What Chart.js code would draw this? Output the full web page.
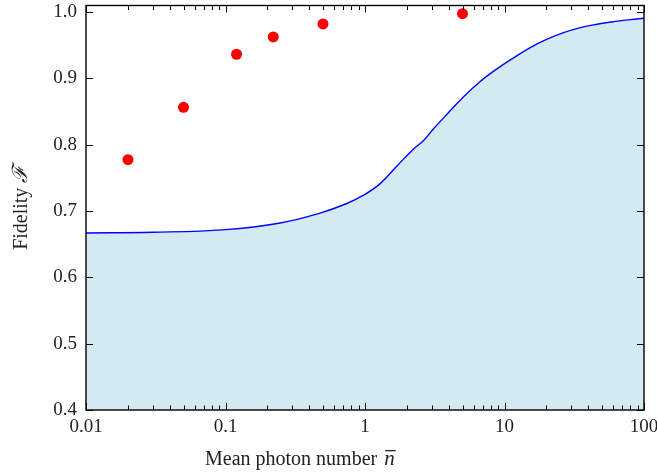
<!DOCTYPE html>
<html>
<head>
<meta charset="utf-8">
<script src="https://cdn.jsdelivr.net/npm/chart.js@4.4.0/dist/chart.umd.min.js"></script>
<style>
    html, body { margin: 0; padding: 0; background: #fff; }
    #wrap { width: 657px; height: 474px; }
</style>
</head>
<body>
<div id="wrap"><canvas id="chartFidelity"></canvas></div>
<script>
// theory curve (mean photon number -> fidelity)
const curveN = [0.01, 0.03, 0.1, 0.247, 0.477, 0.741, 0.975, 1.285, 1.694, 2.23, 2.63, 3.10, 3.87, 5.09, 6.70, 8.83, 11.6, 15.3, 20.2, 26.5, 35, 46, 60.6, 79.8, 100];
const curveF = [0.667, 0.668, 0.672, 0.682, 0.697, 0.7114, 0.7239, 0.7414, 0.768, 0.7935, 0.8065, 0.824, 0.846, 0.8725, 0.8955, 0.9145, 0.931, 0.9466, 0.9592, 0.969, 0.9766, 0.9817, 0.9856, 0.9887, 0.9907];
// measured points
const measN = [0.02, 0.05, 0.12, 0.22, 0.5, 5];
const measF = [0.7775, 0.8565, 0.9365, 0.9626, 0.9822, 0.9976];
// axes
const xTickVals = [0.01, 0.1, 1, 10, 100];
const xTickLabels = ['0.01', '0.1', '1', '10', '100'];
const yTickVals = [0.4, 0.5, 0.6, 0.7, 0.8, 0.9, 1.0];
const yTickLabels = ['0.4', '0.5', '0.6', '0.7', '0.8', '0.9', '1.0'];

const serif = '"Liberation Serif", "Times New Roman", serif';

const noPad = (s) => {
    s.paddingLeft = 0;
    s.paddingRight = 0;
    s.paddingTop = 0;
    s.paddingBottom = 0;
};

const frameTicks = {
    id: 'frameTicks',
    afterDatasetsDraw(chart) {
        const { ctx, chartArea: a, scales: { x, y } } = chart;
        ctx.save();
        ctx.strokeStyle = '#000';
        ctx.lineWidth = 1;
        ctx.beginPath();
        xTickVals.forEach(v => {
            const px = Math.round(x.getPixelForValue(v)) + 0.5;
            ctx.moveTo(px, a.bottom); ctx.lineTo(px, a.bottom - 7);
            ctx.moveTo(px, a.top); ctx.lineTo(px, a.top + 7);
        });
        for (let d = 0.01; d < 100; d *= 10) {
            for (let k = 2; k <= 9; k++) {
                const px = Math.round(x.getPixelForValue(d * k)) + 0.5;
                ctx.moveTo(px, a.bottom); ctx.lineTo(px, a.bottom - 4.5);
                ctx.moveTo(px, a.top); ctx.lineTo(px, a.top + 4.5);
            }
        }
        yTickVals.forEach(v => {
            const py = Math.round(y.getPixelForValue(v)) + 0.5;
            ctx.moveTo(a.left, py); ctx.lineTo(a.left + 7, py);
            ctx.moveTo(a.right, py); ctx.lineTo(a.right - 7, py);
        });
        ctx.stroke();
        ctx.lineWidth = 1.4;
        ctx.strokeRect(a.left, a.top, a.width, a.height);
        ctx.restore();
    },
    afterDraw(chart) {
        const { ctx, chartArea: a } = chart;
        ctx.save();
        ctx.fillStyle = '#222';
        // x title
        ctx.font = '20px ' + serif;
        ctx.textBaseline = 'alphabetic';
        ctx.textAlign = 'left';
        const xt = 'Mean photon number ';
        const x0 = a.left + 119;
        const base = 465;
        ctx.fillText(xt, x0, base);
        const w = ctx.measureText(xt).width;
        ctx.font = 'italic 21px ' + serif;
        ctx.fillText('n', x0 + w + 2, base);
        const nw = ctx.measureText('n').width;
        ctx.fillRect(x0 + w + 3, base - 15, nw, 1.3);
        // y title
        ctx.translate(27, (a.top + a.bottom) / 2);
        ctx.rotate(-Math.PI / 2);
        ctx.font = '20px ' + serif;
        const yt = 'Fidelity ';
        const ytw = ctx.measureText(yt).width;
        ctx.font = 'italic 21px ' + serif;
        const fw = ctx.measureText('\u2131').width;
        const start = -(ytw + fw) / 2;
        ctx.font = '20px ' + serif;
        ctx.fillText(yt, start, 0);
        ctx.font = 'italic 21px ' + serif;
        ctx.fillText('\u2131', start + ytw, 0);
        ctx.restore();
    }
};

const ctx = document.getElementById('chartFidelity');
new Chart(ctx, {
    data: {
        datasets: [
            {
                type: 'scatter',
                label: 'measured',
                data: measN.map((n, i) => ({ x: n, y: measF[i] })),
                backgroundColor: '#ff0000',
                borderWidth: 0,
                pointRadius: 5.5,
                order: 0
            },
            {
                type: 'line',
                label: 'theory',
                data: curveN.map((n, i) => ({ x: n, y: curveF[i] })),
                borderColor: '#0000ff',
                borderWidth: 1.4,
                backgroundColor: 'rgb(212, 234, 241)',
                fill: 'start',
                pointRadius: 0,
                tension: 0.4,
                order: 1
            }
        ]
    },
    options: {
        responsive: true,
        maintainAspectRatio: false,
        animation: false,
        layout: { padding: { top: 4.5, right: 13, left: 0, bottom: 0 } },
        plugins: {
            legend: { display: false },
            tooltip: { enabled: false }
        },
        scales: {
            x: {
                type: 'logarithmic',
                min: 0.01,
                max: 100,
                grid: { display: false, drawTicks: false },
                border: { display: false },
                afterBuildTicks: (s) => { s.ticks = xTickVals.map(v => ({ value: v, major: true })); },
                afterFit: (s) => { s.height = 64; noPad(s); },
                ticks: {
                    padding: 6,
                    autoSkip: false,
                    maxRotation: 0,
                    color: '#222',
                    font: { family: serif, size: 19 },
                    callback: (v) => xTickLabels[xTickVals.indexOf(v)] ?? ''
                }
            },
            y: {
                type: 'linear',
                min: 0.4,
                max: 1.01,
                grid: { display: false, drawTicks: false },
                border: { display: false },
                afterBuildTicks: (s) => { s.ticks = yTickVals.map(v => ({ value: v })); },
                afterFit: (s) => { s.width = 86; noPad(s); },
                ticks: {
                    padding: 9,
                    color: '#222',
                    font: { family: serif, size: 19 },
                    callback: (v, i) => yTickLabels[i]
                }
            }
        }
    },
    plugins: [frameTicks]
});
</script>
</body>
</html>
